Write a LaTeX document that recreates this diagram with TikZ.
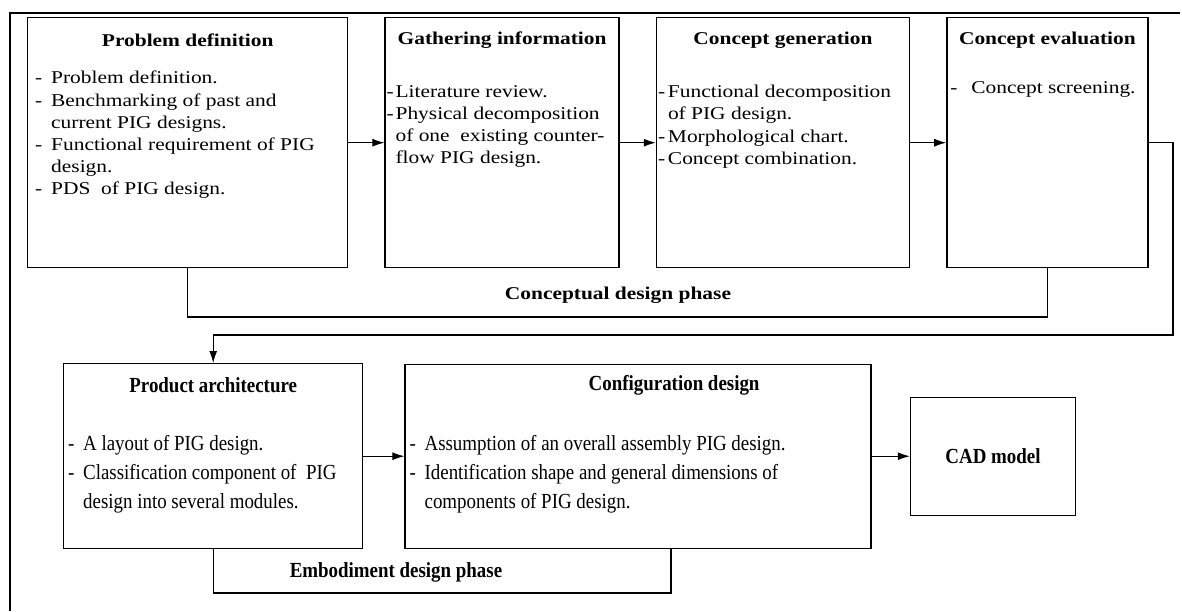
\documentclass[tikz,border=0pt]{standalone}
\usepackage{fontspec}
\usepackage{tikz}
\usetikzlibrary{arrows.meta, positioning}

\newfontfamily\wideserif{Liberation Serif}[FakeStretch=1.19]
\newfontfamily\narrowserif{Liberation Serif}[FakeStretch=0.88]
\newcommand{\rowa}{\wideserif\fontsize{18}{22.2}\selectfont}
\newcommand{\rowb}{\narrowserif\fontsize{21.5}{29}\selectfont}
\newcommand{\dl}[1]{\makebox[#1][l]{-}}
\newcommand{\ind}[1]{\hspace*{#1}}

\begin{document}
\begin{tikzpicture}[
    x=1pt, y=-1pt,
    node distance=36pt,
    box/.style={draw, line width=1.4pt, inner sep=0pt},
    head/.style={inner sep=0pt, font=\rowa\bfseries},
    body/.style={anchor=north west, align=left, inner sep=0pt, font=\rowa},
    headb/.style={inner sep=0pt, font=\rowb\bfseries},
    bodyb/.style={anchor=north west, align=left, inner sep=0pt, font=\rowb},
    arrow/.style={-{Latex[length=12pt, width=8pt]}, line width=1.1pt},
    bar/.style={line width=1.2pt}
]
    \useasboundingbox (0,0) rectangle (1182,611);
    \draw[bar] (10,611) -- (10,13) -- (1180,13);

    % conceptual design phase
    \node[box, anchor=north west, minimum width=320pt, minimum height=250pt] (prob) at (27,17) {};
    \node[box, right=of prob, minimum width=234pt, minimum height=250pt] (gath) {};
    \node[box, right=of gath, minimum width=253pt, minimum height=250pt] (gen) {};
    \node[box, right=of gen, minimum width=201pt, minimum height=250pt] (eval) {};

    \node[head] (probT) at ([yshift=-23pt]prob.north) {Problem definition};
    \node[head] (gathT) at ([yshift=-23pt]gath.north) {Gathering information};
    \node[head] (genT) at ([yshift=-23pt]gen.north) {Concept generation};
    \node[head] (evalT) at ([yshift=-23pt]eval.north) {Concept evaluation};

    \node[body] (probB) at ([xshift=8pt, yshift=-54pt]prob.north west) {%
        \dl{16pt}Problem definition.\\
        \dl{16pt}Benchmarking of past and\\
        \ind{16pt}current PIG designs.\\
        \dl{16pt}Functional requirement of PIG\\
        \ind{16pt}design.\\
        \dl{16pt}PDS\ \ of PIG design.};
    \node[body] (gathB) at ([xshift=2pt, yshift=-68pt]gath.north west) {%
        \dl{9pt}Literature review.\\
        \dl{9pt}Physical decomposition\\
        \ind{9pt}of one\ \ existing counter-\\
        \ind{9pt}flow PIG design.};
    \node[body] (genB) at ([xshift=2pt, yshift=-68pt]gen.north west) {%
        \dl{10pt}Functional decomposition\\
        \ind{10pt}of PIG design.\\
        \dl{10pt}Morphological chart.\\
        \dl{10pt}Concept combination.};
    \node[body] (evalB) at ([xshift=4pt, yshift=-64pt]eval.north west) {%
        \dl{21pt}Concept screening.};

    \draw[arrow] (prob) -- (gath);
    \draw[arrow] (gath) -- (gen);
    \draw[arrow] (gen) -- (eval);

    \coordinate (cbase) at (618,317);
    \draw[bar] (prob.south) |- (cbase) -| (eval.south);
    \node[head] (cdp) at (618,295) {Conceptual design phase};

    % embodiment design phase
    \node[box, anchor=north west, minimum width=299pt, minimum height=185pt] (prod) at (63,363) {};
    \node[box, right=41pt of prod, minimum width=466pt, minimum height=184pt] (conf) {};
    \node[box, right=38pt of conf, minimum width=165pt, minimum height=118pt, font=\rowb\bfseries] (cad) {CAD model};

    \node[headb] (prodT) at ([yshift=-22pt]prod.north) {Product architecture};
    \node[headb] (confT) at ([xshift=36pt, yshift=-22pt]conf.north) {Configuration design};

    \node[bodyb] (prodB) at ([xshift=5pt, yshift=-72pt]prod.north west) {%
        \dl{15pt}A layout of PIG design.\\
        \dl{15pt}Classification component of\ \ PIG\\
        \ind{15pt}design into several modules.};
    \node[bodyb] (confB) at ([xshift=5pt, yshift=-72pt]conf.north west) {%
        \dl{15pt}Assumption of an overall assembly PIG design.\\
        \dl{15pt}Identification shape and general dimensions of\\
        \ind{15pt}components of PIG design.};

    \coordinate (loop) at (1173,335);
    \draw[arrow] (eval.east) -| (loop) -| (prod.north);
    \draw[arrow] (prod) -- (conf);
    \draw[arrow] (conf) -- (cad);

    \coordinate (ebase) at (671,593);
    \draw[bar] (prod.south) |- (ebase) -- (ebase |- conf.south);
    \node[headb] (edp) at (396,572) {Embodiment design phase};
\end{tikzpicture}
\end{document}
